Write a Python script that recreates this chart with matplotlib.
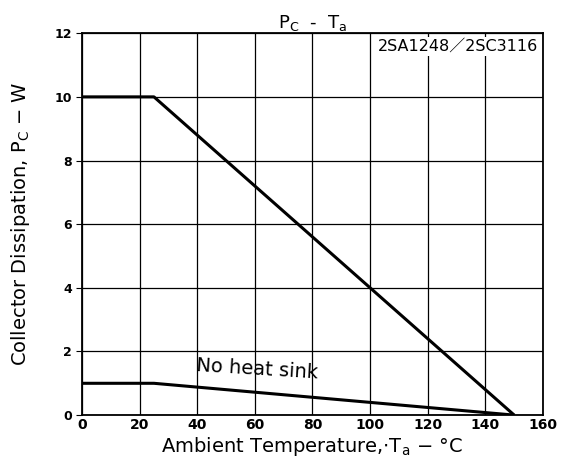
import matplotlib.pyplot as plt

# derating curves
temp = [0, 25, 150]
pc_heatsink = [10, 10, 0]
pc_no_sink = [1, 1, 0]

xticks = [0, 20, 40, 60, 80, 100, 120, 140, 160]
yticks = [0, 2, 4, 6, 8, 10, 12]

fig = plt.figure(figsize=(5.61, 4.68), dpi=100)
ax = fig.add_axes([0.146, 0.113, 0.822, 0.816])

ax.plot(temp, pc_heatsink, color='black', lw=2.2, solid_capstyle='butt')
ax.plot(temp, pc_no_sink, color='black', lw=2.2, solid_capstyle='butt')

ax.set_xlim(0, 160)
ax.set_ylim(0, 12)
ax.set_xticks(xticks)
ax.set_yticks(yticks)
ax.grid(True, color='black', lw=0.9)
for s in ax.spines.values():
    s.set_linewidth(1.3)
ax.tick_params(axis='x', length=0, pad=2, labelsize=10)
ax.tick_params(axis='y', length=4, pad=3, labelsize=9)
for lab in ax.get_xticklabels() + ax.get_yticklabels():
    lab.set_fontweight('bold')

ax.set_xlabel('Ambient Temperature,$\\cdot$T$_\\mathregular{a}$ $-$ °C', fontsize=14, labelpad=2)
ax.set_ylabel('Collector Dissipation, P$_\\mathregular{C}$ $-$ W', fontsize=14, labelpad=16)
ax.set_title('P$_\\mathregular{C}$  -  T$_\\mathregular{a}$', fontsize=13, pad=4)

ax.text(0.99, 0.985, '2SA1248／2SC3116', transform=ax.transAxes,
        ha='right', va='top', fontsize=11.5, family=['DejaVu Sans', 'Noto Sans CJK JP'],
        bbox=dict(facecolor='white', edgecolor='none', pad=1.5))
ax.text(39.5, 1.02, 'No heat sink', fontsize=14, rotation=-3.5, ha='left', va='bottom')

fig.savefig('out.png', dpi=100)
